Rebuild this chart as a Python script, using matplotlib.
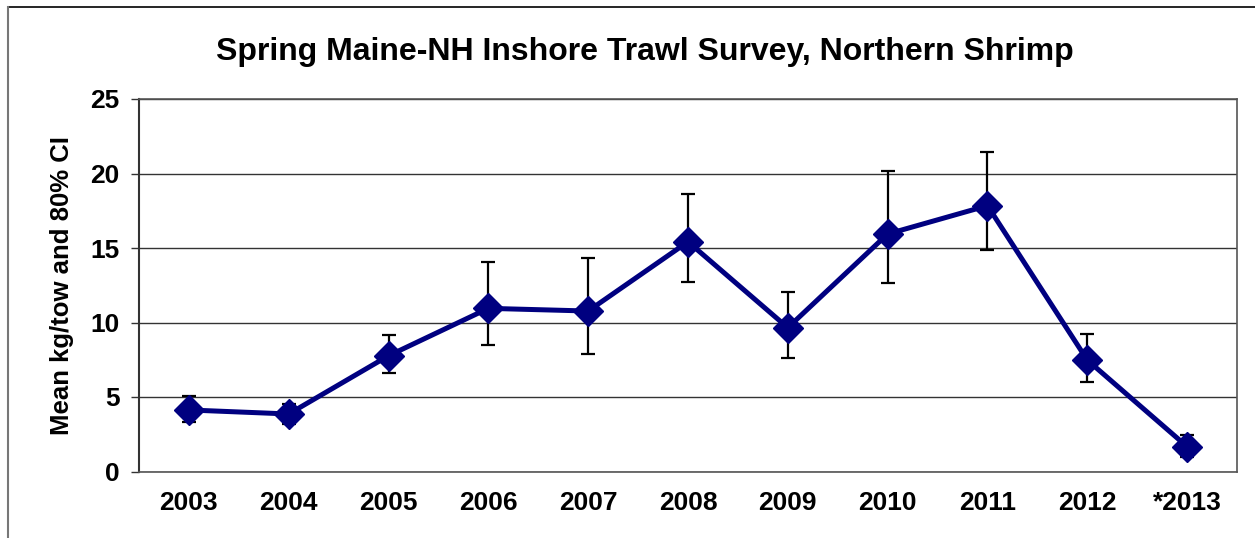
import matplotlib.pyplot as plt
from matplotlib.lines import Line2D

years = ["2003", "2004", "2005", "2006", "2007", "2008", "2009", "2010", "2011", "2012", "*2013"]
mean_kg = [4.13, 3.86, 7.77, 10.95, 10.77, 15.42, 9.65, 15.94, 17.84, 7.48, 1.67]
ci_upper = [5.07, 4.5, 9.16, 14.08, 14.31, 18.62, 12.07, 20.15, 21.42, 9.21, 2.45]
ci_lower = [3.35, 3.2, 6.59, 8.49, 7.89, 12.70, 7.64, 12.63, 14.87, 6.03, 1.0]

plt.rcParams['font.family'] = ['Liberation Sans', 'DejaVu Sans']

fig = plt.figure(figsize=(12.55, 5.38), dpi=100)
ax = fig.add_axes([139 / 1255, 66.5 / 538, 1098 / 1255, 372.5 / 538])

x = list(range(len(years)))
yerr = [[m - lo for m, lo in zip(mean_kg, ci_lower)],
        [hi - m for m, hi in zip(mean_kg, ci_upper)]]

ax.errorbar(x, mean_kg, yerr=yerr, fmt='none', ecolor='black',
            elinewidth=1.6, capsize=5, capthick=1.6, zorder=2)
ax.plot(x, mean_kg, color='#000080', linewidth=3.6, marker='D',
        markersize=15, markerfacecolor='#000080', markeredgecolor='#000080', zorder=3)

ax.set_xlim(-0.5, len(years) - 0.5)
ax.set_ylim(0, 25)
ax.set_yticks([0, 5, 10, 15, 20, 25])
ax.set_xticks(x)
ax.set_xticklabels(years)
ax.yaxis.grid(True, color='#333333', linewidth=1)
ax.set_axisbelow(True)

for lbl in ax.get_xticklabels() + ax.get_yticklabels():
    lbl.set_fontsize(19)
    lbl.set_fontweight('bold')

ax.tick_params(axis='x', length=0, pad=14)
ax.tick_params(axis='y', length=6, width=1, color='#333333', pad=8)

for side in ['top', 'right', 'bottom']:
    ax.spines[side].set_color('#555555')
    ax.spines[side].set_linewidth(1.2)
ax.spines['left'].set_color('#333333')
ax.spines['left'].set_linewidth(1.5)

ax.set_ylabel("Mean kg/tow and 80% CI", fontsize=18.5, fontweight='bold', labelpad=12)

fig.text(645 / 1255, 1 - 52 / 538, "Spring Maine-NH Inshore Trawl Survey, Northern Shrimp",
         ha='center', va='center', fontsize=23, fontweight='bold')

# outer chart frame (cropped)
fig.add_artist(Line2D([8 / 1255, 1.0], [1 - 7 / 538, 1 - 7 / 538], color='black', linewidth=1.2))
fig.add_artist(Line2D([8 / 1255, 8 / 1255], [0, 1 - 7 / 538], color='#777777', linewidth=1.5))

fig.savefig("out.png", dpi=100)
